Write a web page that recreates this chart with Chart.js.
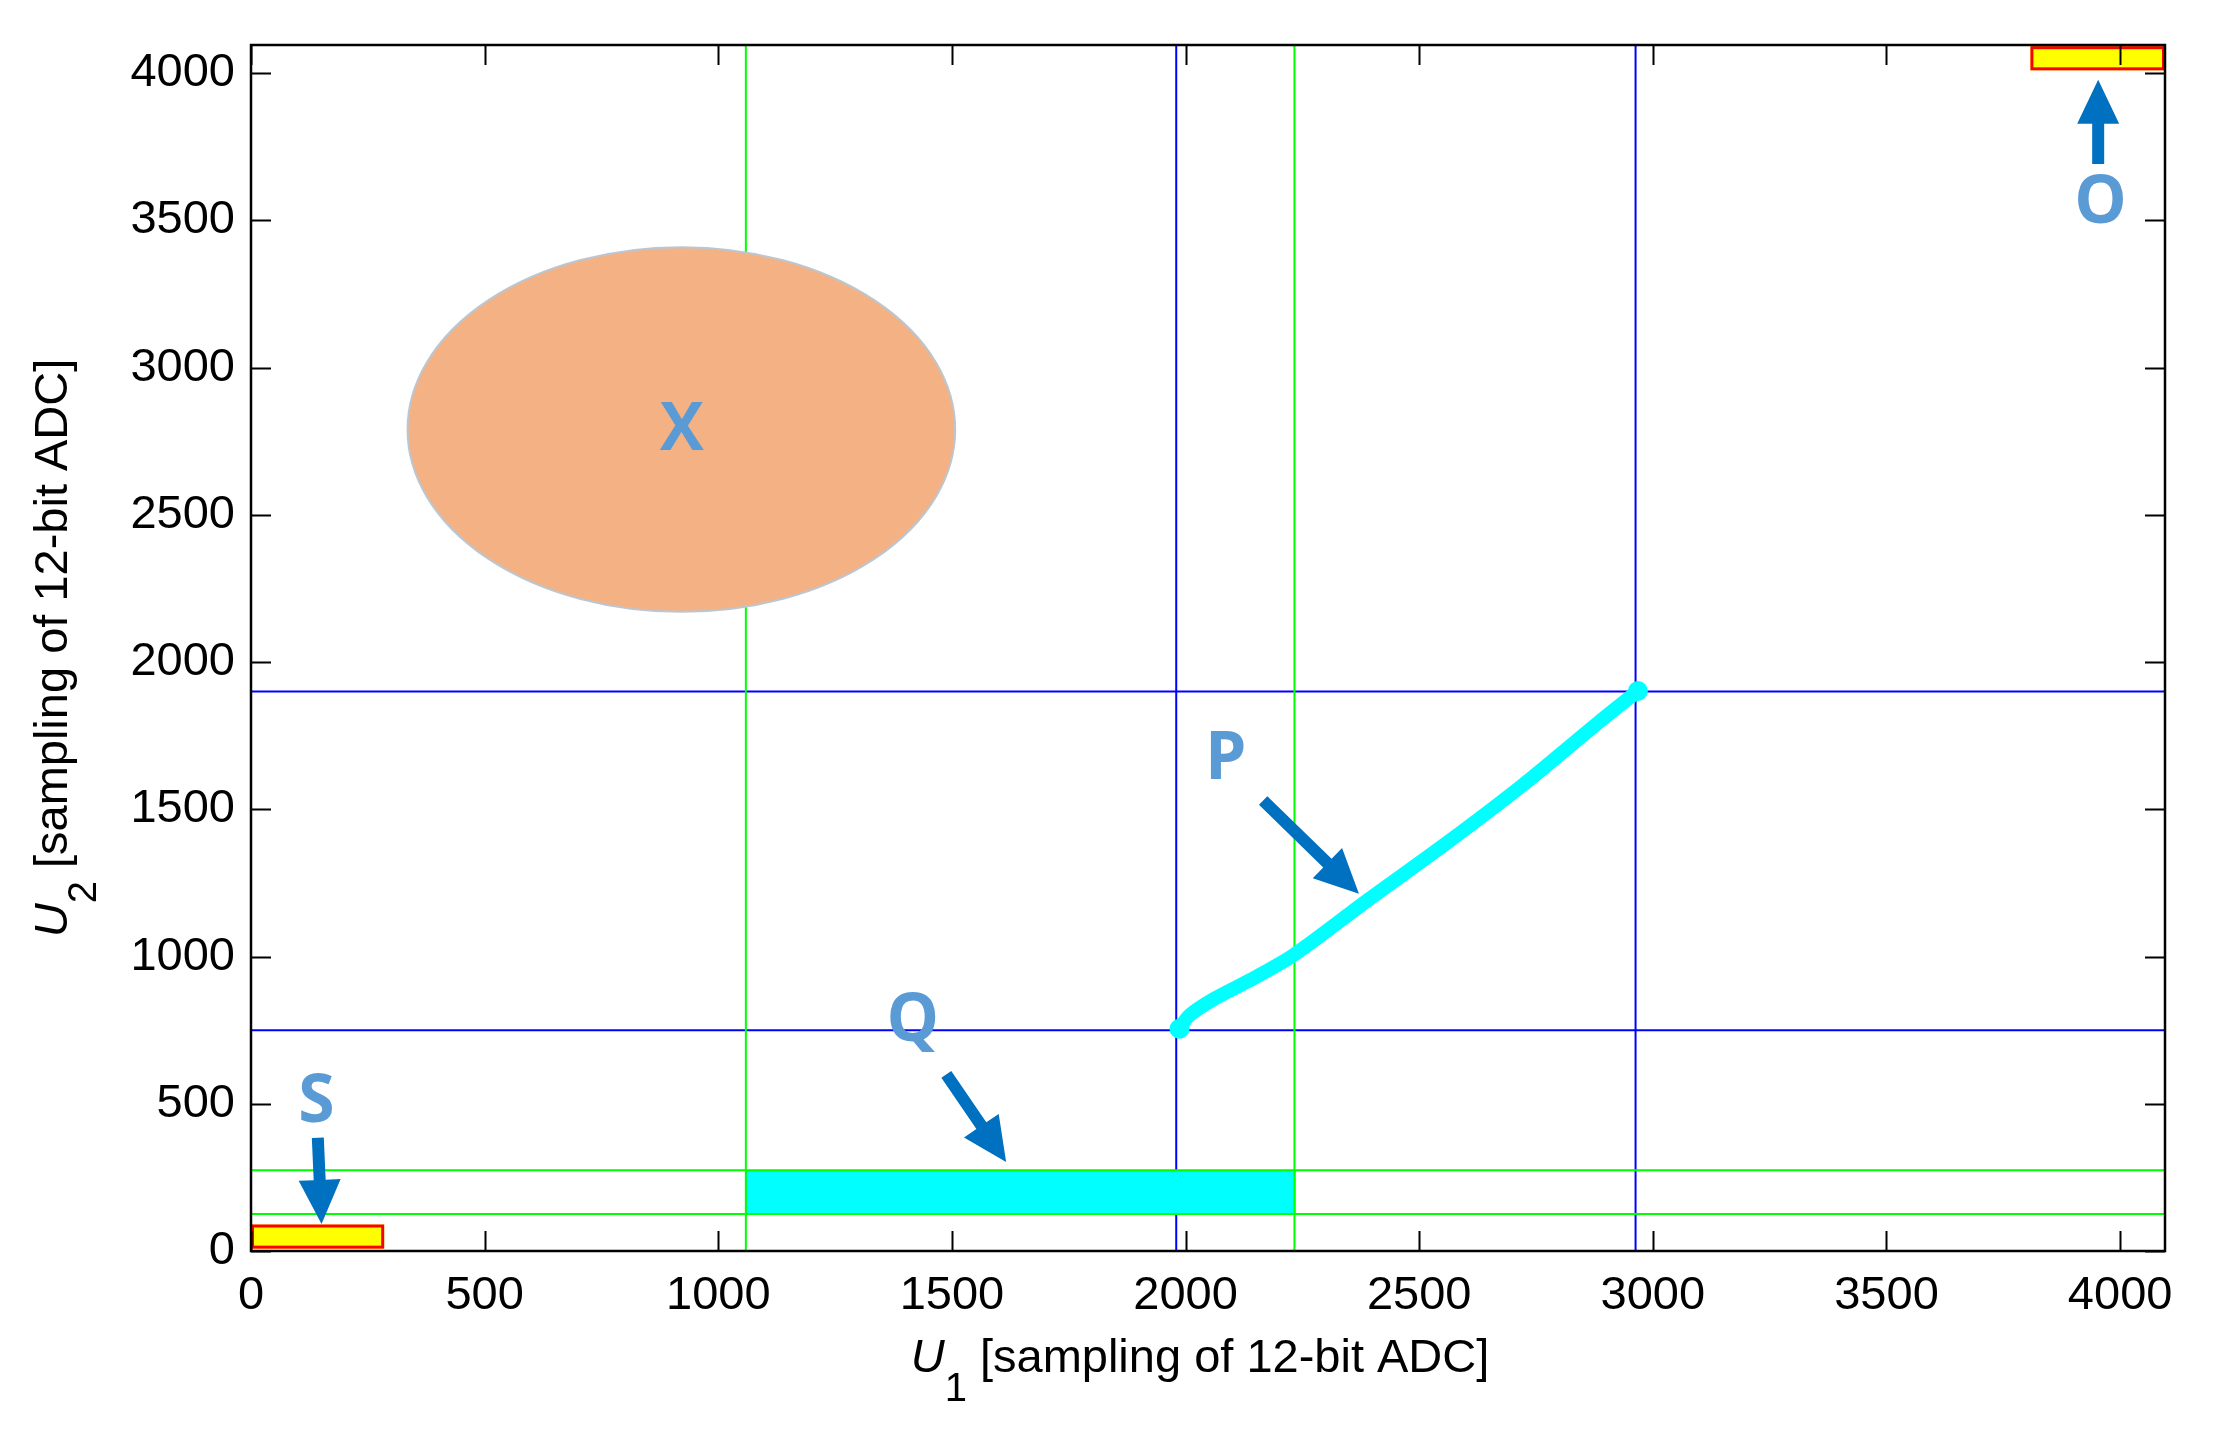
<!DOCTYPE html>
<html>
<head>
<meta charset="utf-8">
<title>U1 / U2 ADC regions</title>
<script src="https://cdn.jsdelivr.net/npm/chart.js@4.4.1/dist/chart.umd.min.js"></script>
<style>
  html, body { margin: 0; padding: 0; background: #fff; }
  #chart { display: block; }
</style>
</head>
<body>
<canvas id="chart" width="2215" height="1433"></canvas>
<script>
// Axis range and tick labels (12-bit ADC samples)
const AXIS_MIN = 0;
const AXIS_MAX = 4096;
const TICK_VALUES = [0, 500, 1000, 1500, 2000, 2500, 3000, 3500, 4000];

// Boundary lines
const BLUE_U1 = [1980, 2963];
const BLUE_U2 = [750, 1900];
const GREEN_U1 = [1059, 2233];
const GREEN_U2 = [126, 274];

// Trajectory P
const P_U1 = [1987, 2008, 2063, 2150, 2233, 2391, 2554, 2718, 2882, 2968];
const P_U2 = [755, 800, 858, 930, 1007, 1193, 1380, 1578, 1793, 1902];

// Rectangular regions: [u1 min, u1 max, u2 min, u2 max]
const REGION_Q = [1059, 2236, 126, 274];
const REGION_S = [0, 285, 8, 90];
const REGION_O = [3808, 4096, 4010, 4092];
// Elliptic region X: [centre u1, centre u2, radius u1, radius u2]
const REGION_X = [921, 2790, 586, 619];

// Region labels
const LABEL_TEXT = ['X', 'O', 'S', 'P', 'Q'];
const LABEL_U1 = [922, 3958, 140, 2086, 1416];
const LABEL_U2 = [2790, 3562, 510, 1673, 783];

// Arrows (tail -> tip) for O, S, P, Q
const ARROW_FROM_U1 = [3953, 143, 2166, 1488];
const ARROW_FROM_U2 = [3692, 385, 1530, 600];
const ARROW_TO_U1 = [3953, 151, 2371, 1616];
const ARROW_TO_U2 = [3978, 92, 1213, 302];

const FONT = "'Liberation Sans', Arial, Helvetica, sans-serif";
const LABEL_FONT = "'Open Sans', 'Noto Sans', sans-serif";

Chart.defaults.font.family = FONT;
Chart.defaults.color = '#000';

function vLine(u1, color, order) {
  return {
    data: [{x: u1, y: AXIS_MIN}, {x: u1, y: AXIS_MAX}],
    showLine: true, borderColor: color, borderWidth: 2, pointRadius: 0,
    order: order, kind: color
  };
}
function hLine(u2, color, order) {
  return {
    data: [{x: AXIS_MIN, y: u2}, {x: AXIS_MAX, y: u2}],
    showLine: true, borderColor: color, borderWidth: 2, pointRadius: 0,
    order: order, kind: color
  };
}

let datasets = [];
BLUE_U1.forEach(v => datasets.push(vLine(v, '#0000ff', 2)));
BLUE_U2.forEach(v => datasets.push(hLine(v, '#0000ff', 2)));
GREEN_U1.forEach(v => datasets.push(vLine(v, '#00ff00', 1)));
GREEN_U2.forEach(v => datasets.push(hLine(v, '#00ff00', 1)));
datasets.push({
  data: P_U1.map((x, i) => ({x: x, y: P_U2[i]})),
  showLine: true,
  borderColor: '#00ffff',
  borderWidth: 14,
  borderCapStyle: 'round',
  borderJoinStyle: 'round',
  tension: 0.3,
  pointRadius: P_U1.map((x, i) => (i === 0 || i === P_U1.length - 1) ? 10 : 0),
  pointBackgroundColor: '#00ffff',
  pointBorderWidth: 0,
  order: 0
});

// helpers
function px(chart, u1) { return chart.scales.x.getPixelForValue(u1); }
function py(chart, u2) { return chart.scales.y.getPixelForValue(u2); }

function drawRect(chart, r, fill, stroke) {
  const ctx = chart.ctx;
  const x0 = px(chart, r[0]), x1 = px(chart, r[1]);
  const y0 = py(chart, r[3]), y1 = py(chart, r[2]);
  ctx.fillStyle = fill;
  ctx.fillRect(x0, y0, x1 - x0, y1 - y0);
  if (stroke) {
    ctx.strokeStyle = stroke;
    ctx.lineWidth = 3;
    ctx.strokeRect(x0 + 1.5, y0 + 1.5, x1 - x0 - 3, y1 - y0 - 3);
  }
}

function drawArrow(ctx, x1, y1, x2, y2) {
  const shaft = 6, headLen = 44, headW = 21;
  const len = Math.hypot(x2 - x1, y2 - y1);
  const dx = (x2 - x1) / len, dy = (y2 - y1) / len;
  const nx = -dy, ny = dx;
  const bx = x2 - dx * headLen, by = y2 - dy * headLen;
  ctx.beginPath();
  ctx.moveTo(x1 + nx * shaft, y1 + ny * shaft);
  ctx.lineTo(bx + nx * shaft, by + ny * shaft);
  ctx.lineTo(bx + nx * headW, by + ny * headW);
  ctx.lineTo(x2, y2);
  ctx.lineTo(bx - nx * headW, by - ny * headW);
  ctx.lineTo(bx - nx * shaft, by - ny * shaft);
  ctx.lineTo(x1 - nx * shaft, y1 - ny * shaft);
  ctx.closePath();
  ctx.fillStyle = '#0070c0';
  ctx.fill();
}

let regionQDrawn = false;

const regionsPlugin = {
  id: 'regions',
  beforeDatasetsDraw() { regionQDrawn = false; },
  beforeDatasetDraw(chart, args) {
    // cyan band sits above the blue lines, under the green ones
    const ds = chart.data.datasets[args.index];
    if (!regionQDrawn && ds.kind === '#00ff00') {
      const a = chart.chartArea, ctx = chart.ctx;
      ctx.save();
      ctx.beginPath();
      ctx.rect(a.left, a.top, a.right - a.left, a.bottom - a.top);
      ctx.clip();
      drawRect(chart, REGION_Q, '#00ffff', null);
      ctx.restore();
      regionQDrawn = true;
    }
  },
  afterDatasetsDraw(chart) {
    const ctx = chart.ctx;
    ctx.save();

    // elliptic region X
    const cx = px(chart, REGION_X[0]), cy = py(chart, REGION_X[1]);
    const rx = Math.abs(px(chart, REGION_X[0] + REGION_X[2]) - cx);
    const ry = Math.abs(py(chart, REGION_X[1] + REGION_X[3]) - cy);
    ctx.beginPath();
    ctx.ellipse(cx, cy, rx, ry, 0, 0, Math.PI * 2);
    ctx.fillStyle = '#f4b183';
    ctx.fill();
    ctx.lineWidth = 2;
    ctx.strokeStyle = '#bcc6d0';
    ctx.stroke();

    // rectangular regions S and O
    drawRect(chart, REGION_S, '#ffff00', '#ff0000');
    drawRect(chart, REGION_O, '#ffff00', '#ff0000');

    // arrows
    ARROW_FROM_U1.forEach((u1, i) => {
      drawArrow(ctx, px(chart, u1), py(chart, ARROW_FROM_U2[i]),
        px(chart, ARROW_TO_U1[i]), py(chart, ARROW_TO_U2[i]));
    });

    // labels
    ctx.font = '700 66px ' + LABEL_FONT;
    ctx.fillStyle = '#5b9bd5';
    ctx.textAlign = 'center';
    ctx.textBaseline = 'middle';
    LABEL_TEXT.forEach((t, i) => {
      ctx.fillText(t, px(chart, LABEL_U1[i]), py(chart, LABEL_U2[i]) + 2);
    });
    ctx.restore();
  },
  afterDraw(chart) {
    const ctx = chart.ctx, a = chart.chartArea;
    const xs = chart.scales.x, ys = chart.scales.y;
    ctx.save();

    // frame
    ctx.strokeStyle = '#000';
    ctx.lineWidth = 2.5;
    ctx.strokeRect(a.left, a.top, a.right - a.left, a.bottom - a.top);

    // inward ticks on all four sides
    const len = 20;
    ctx.lineWidth = 2;
    ctx.beginPath();
    xs.ticks.forEach(t => {
      const x = Math.round(xs.getPixelForValue(t.value)) + 0.5;
      ctx.moveTo(x, a.bottom); ctx.lineTo(x, a.bottom - len);
      ctx.moveTo(x, a.top); ctx.lineTo(x, a.top + len);
    });
    ys.ticks.forEach(t => {
      const y = Math.round(ys.getPixelForValue(t.value)) + 0.5;
      ctx.moveTo(a.left, y); ctx.lineTo(a.left + len, y);
      ctx.moveTo(a.right, y); ctx.lineTo(a.right - len, y);
    });
    ctx.stroke();

    // axis titles: italic U with subscript
    const main = '47px ' + FONT, ital = 'italic 47px ' + FONT, sub = '40px ' + FONT;
    function title(idx, rest) {
      ctx.font = ital; const wU = ctx.measureText('U').width;
      ctx.font = sub; const wS = ctx.measureText(idx).width;
      ctx.font = main; const wR = ctx.measureText(rest).width;
      let x = -(wU + wS + wR) / 2;
      ctx.textAlign = 'left';
      ctx.textBaseline = 'alphabetic';
      ctx.fillStyle = '#000';
      ctx.font = ital; ctx.fillText('U', x, 0); x += wU;
      ctx.font = sub; ctx.fillText(idx, x, 29); x += wS;
      ctx.font = main; ctx.fillText(rest, x, 0);
    }
    ctx.save();
    ctx.translate((a.left + a.right) / 2 - 8, 1372);
    title('1', ' [sampling of 12-bit ADC]');
    ctx.restore();
    ctx.save();
    ctx.translate(67, (a.top + a.bottom) / 2);
    ctx.rotate(-Math.PI / 2);
    title('2', ' [sampling of 12-bit ADC]');
    ctx.restore();

    ctx.restore();
  }
};

function useTickValues(scale) {
  scale.ticks = TICK_VALUES.map(v => ({value: v}));
}

const tickFont = {family: FONT, size: 47};

new Chart(document.getElementById('chart'), {
  type: 'scatter',
  data: {datasets: datasets},
  options: {
    responsive: false,
    animation: false,
    devicePixelRatio: 1,
    layout: {padding: {left: 0, top: 45, right: 50, bottom: 0}},
    plugins: {legend: {display: false}, tooltip: {enabled: false}},
    scales: {
      x: {
        type: 'linear', min: AXIS_MIN, max: AXIS_MAX,
        grid: {display: false, drawTicks: false}, border: {display: false},
        afterBuildTicks: useTickValues,
        afterFit: s => { s.height = 182; },
        ticks: {font: tickFont, color: '#000', padding: 17, maxRotation: 0, autoSkip: false,
          format: {useGrouping: false}}
      },
      y: {
        type: 'linear', min: AXIS_MIN, max: AXIS_MAX,
        grid: {display: false, drawTicks: false}, border: {display: false},
        afterBuildTicks: useTickValues,
        afterFit: s => { s.width = 251; },
        ticks: {font: tickFont, color: '#000', padding: 16, autoSkip: false,
          format: {useGrouping: false}}
      }
    }
  },
  plugins: [regionsPlugin]
});
</script>
</body>
</html>
